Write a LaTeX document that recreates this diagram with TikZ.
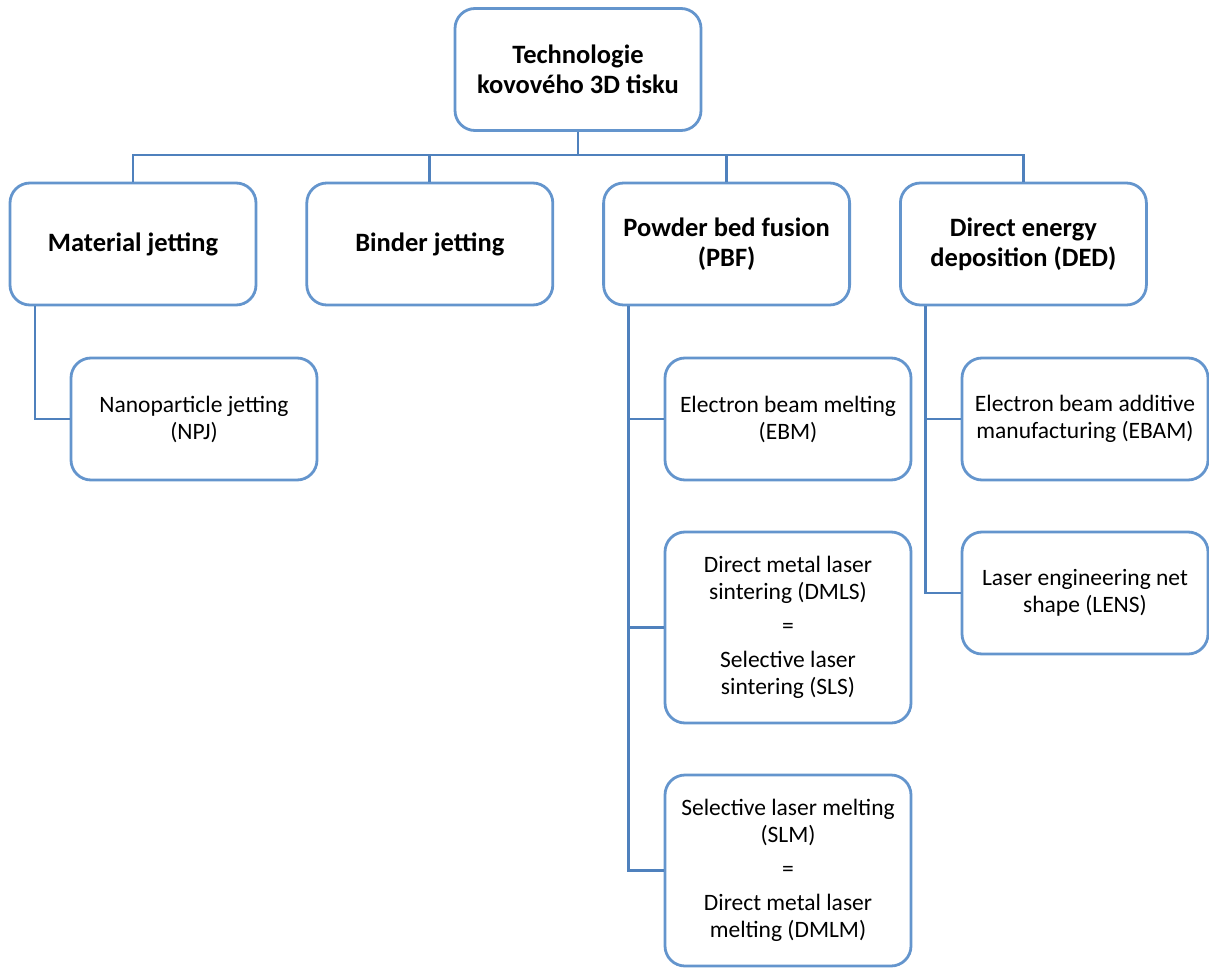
\documentclass[tikz,border=0pt]{standalone}
\usepackage{fontspec}
\setmainfont{Carlito}
\usepackage{tikz}
\usetikzlibrary{positioning}
\definecolor{boxline}{HTML}{6495CD}
\definecolor{linkline}{HTML}{4F81BD}

\begin{document}
\begin{tikzpicture}[x=1pt,y=-1pt]
\tikzstyle{main}=[rectangle, rounded corners=20pt, draw=boxline, line width=2.8pt, fill=white, minimum width=246pt, minimum height=122pt, align=center, inner sep=2pt, font=\fontsize{23.5}{27}\selectfont]
\tikzstyle{head}=[main, font=\fontsize{26.5}{30}\selectfont\bfseries]
\tikzstyle{connect}=[draw=linkline, line width=2.8pt]

\useasboundingbox (0,0) rectangle (1209,968);

  \node[head] (root) at (578,69.5) {Technologie\\kovového 3D tisku};
  \node[head] (mj) at (133,244) {Material jetting};
  \node[head] (bj) [right=48pt of mj] {Binder jetting};
  \node[head] (pbf) [right=48pt of bj] {Powder bed fusion\\(PBF)};
  \node[head] (ded) [right=48pt of pbf] {Direct energy\\deposition (DED)};

  \coordinate (bus) at (0,155);
  \draw[connect] (root.south) -- (root.south |- bus);
  \draw[connect] (mj.north) -- (mj.north |- bus) -| (ded.north);
  \foreach \n in {bj,pbf}
    \draw[connect] (\n.north) -- (\n.north |- bus);

\node[main] (npj) at (194,419) {Nanoparticle jetting\\(NPJ)};
\draw[connect] ([xshift=-98pt]mj.south) |- (npj.west);

\node[main] (ebm) at (788,419) {Electron beam melting\\(EBM)};
\node[main, minimum height=191pt] (dmls) at (788,627.5) {Direct metal laser\\sintering (DMLS)\\[7pt]=\\[7pt]Selective laser\\sintering (SLS)};
\node[main, minimum height=191pt] (slm) at (788,870.5) {Selective laser melting\\(SLM)\\[7pt]=\\[7pt]Direct metal laser\\melting (DMLM)};
\foreach \n in {ebm,dmls,slm}
  \draw[connect] ([xshift=-98pt]pbf.south) |- (\n.west);

\node[main] (ebam) at (1085,419) {Electron beam additive\\manufacturing (EBAM)};
\node[main] (lens) at (1085,593) {Laser engineering net\\shape (LENS)};
\foreach \n in {ebam,lens}
  \draw[connect] ([xshift=-98pt]ded.south) |- (\n.west);
\end{tikzpicture}
\end{document}
